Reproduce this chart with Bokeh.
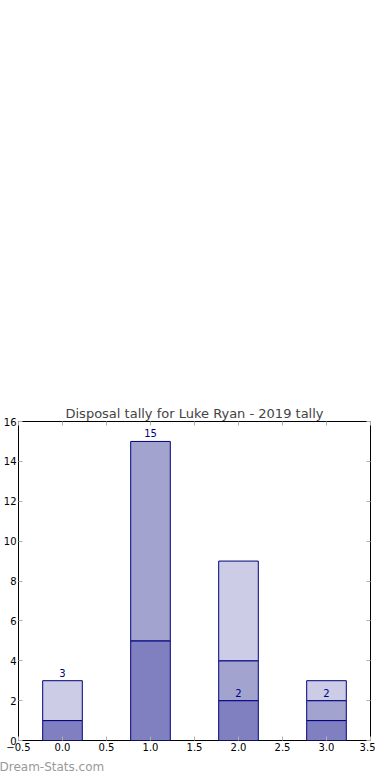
import numpy as np
from bokeh.plotting import figure
from bokeh.models import FixedTicker, LinearAxis, Title, Range1d, ColumnDataSource, CustomJSTickFormatter
from bokeh.core.properties import value
from bokeh.embed import file_html
from bokeh.resources import INLINE

# Data
categories = [0, 1, 2, 3]
tier_low = [1, 5, 2, 1]
tier_mid = [0, 10, 2, 1]
tier_high = [2, 0, 5, 1]
label_values = [3, 15, 2, 2]
label_texts = ["3", "15", "2", "2"]
x_ticks = [-0.5, 0.0, 0.5, 1.0, 1.5, 2.0, 2.5, 3.0, 3.5]
x_tick_labels = ["\u22120.5", "0.0", "0.5", "1.0", "1.5", "2.0", "2.5", "3.0", "3.5"]
y_ticks = [0, 2, 4, 6, 8, 10, 12, 14, 16]
title_text = "Disposal tally for Luke Ryan - 2019 tally"
watermark = "Dream-Stats.com"

FONT = "DejaVu Sans"

p = figure(frame_width=352, frame_height=319, output_backend="svg", toolbar_location=None,
           x_range=Range1d(-0.5, 3.5), y_range=Range1d(0, 16),
           x_axis_location=None, y_axis_location=None,
           min_border_left=10, min_border_right=5, min_border_top=421, min_border_bottom=40)
p.grid.visible = False
p.outline_line_color = "black"
p.outline_line_width = 1
p.background_fill_color = "white"
p.border_fill_color = "white"

p.title.text = title_text
p.title.text_font = FONT
p.title.text_font_size = "13px"
p.title.text_font_style = "normal"
p.title.align = "center"
p.title.standoff = 2

tiers = [tier_low, tier_mid, tier_high]
colors = ["#8080c0", "#a3a3d0", "#ccccE6"]
base = np.zeros(len(categories))
for vals, col in zip(tiers, colors):
    v = np.array(vals, dtype=float)
    keep = v > 0
    src = ColumnDataSource(dict(x=np.array(categories)[keep], bottom=base[keep], top=(base + v)[keep]))
    p.vbar(x="x", bottom="bottom", top="top", width=0.45, source=src,
           fill_color=col, line_color="#000080", line_width=1)
    base = base + v

lsrc = ColumnDataSource(dict(x=categories, y=label_values, t=label_texts))
p.text(x="x", y="y", text="t", source=lsrc, text_align="center", text_baseline="bottom",
       text_font=value(FONT), text_font_size="10px", text_color="#000080", y_offset=-4)

def mk_axis():
    return LinearAxis(axis_line_color=None, major_tick_in=4, major_tick_out=0,
                      major_tick_line_color="#b0b0b0", minor_tick_line_color=None,
                      major_label_text_font=FONT, major_label_text_font_size="10px",
                      major_label_text_color="black",
                      major_label_standoff=2)

bx = mk_axis()
bx.ticker = FixedTicker(ticks=x_ticks)
bx.major_label_overrides = {t: s for t, s in zip(x_ticks, x_tick_labels)}
p.add_layout(bx, "below")
ly = mk_axis()
ly.ticker = FixedTicker(ticks=y_ticks)
p.add_layout(ly, "left")
tx = mk_axis()
tx.ticker = FixedTicker(ticks=x_ticks)
tx.formatter = CustomJSTickFormatter(code="return '';")
tx.major_label_standoff = 0
p.add_layout(tx, "above")
ry = mk_axis()
ry.ticker = FixedTicker(ticks=y_ticks)
ry.formatter = CustomJSTickFormatter(code="return '';")
ry.major_label_standoff = 0
p.add_layout(ry, "right")

wm = Title(text=watermark, align="left", text_font=FONT, text_font_size="12px",
           text_font_style="normal", text_color="#999999", standoff=9, offset=-19)
p.add_layout(wm, "below")

open("out.html", "w").write(file_html(p, INLINE))
